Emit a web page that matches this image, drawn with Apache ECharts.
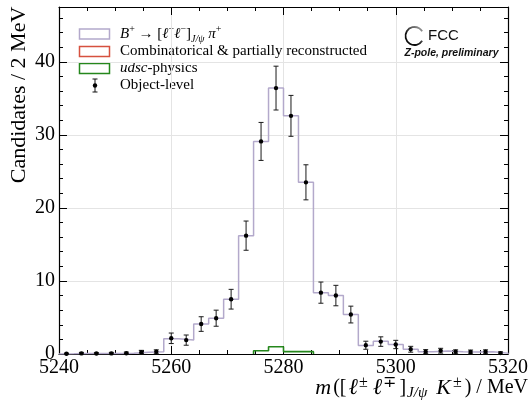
<!DOCTYPE html>
<html>
<head>
<meta charset="utf-8">
<script src="https://cdn.jsdelivr.net/npm/echarts@6/dist/echarts.min.js"></script>
<style>
  html, body { margin: 0; padding: 0; background: #fff; }
  #chart { width: 529px; height: 401px; }
</style>
</head>
<body>
<div id="chart"></div>
<script>
// Binning of the invariant-mass histogram (MeV)
const massLow = 5240;
const massHigh = 5320;
const nBins = 30;

// Stacked template outline, B+ -> [l+ l-]_{J/psi} pi+ (candidates per bin)
const signalStack = [0.03, 0.08, 0.06, 0.08, 0.1, 0.25, 0.3, 2.1, 1.9, 4.1,
                     4.9, 7.5, 16.2, 29.1, 36.4, 32.6, 23.5, 8.4, 8.0, 5.4,
                     1.15, 1.75, 1.3, 0.65, 0.32, 0.42, 0.3, 0.28, 0.3, 0.12];
// Combinatorial & partially reconstructed background
const combinatorial = [0, 0, 0, 0, 0, 0, 0, 0, 0, 0,
                       0, 0, 0, 0, 0, 0, 0, 0, 0, 0,
                       0, 0, 0, 0, 0, 0, 0, 0, 0, 0];
// udsc-physics background
const udsc = [0, 0, 0, 0, 0, 0, 0, 0, 0, 0,
              0, 0, 0, 0.45, 1.0, 0.32, 0.32, 0, 0, 0,
              0, 0, 0, 0, 0, 0, 0, 0, 0, 0];
// Object-level points and their uncertainties
const objectLevel = [0.03, 0.08, 0.06, 0.08, 0.1, 0.25, 0.3, 2.15, 1.9, 4.1,
                     4.9, 7.5, 16.2, 29.1, 36.4, 32.6, 23.5, 8.4, 8.0, 5.4,
                     1.2, 1.7, 1.3, 0.65, 0.32, 0.45, 0.3, 0.28, 0.3, 0.12];
const objectErr = [0.08, 0.14, 0.12, 0.14, 0.16, 0.25, 0.27, 0.72, 0.7, 1.0,
                   1.1, 1.35, 2.0, 2.6, 3.0, 2.8, 2.4, 1.45, 1.4, 1.15,
                   0.55, 0.65, 0.57, 0.4, 0.28, 0.33, 0.27, 0.26, 0.27, 0.17];

// Axis ticks
const xTickStep = 20;
const yTickStep = 10;
const yMinorStep = 2;
const yTop = 47.5;

const binWidth = (massHigh - massLow) / nBins;
const binCenter = i => massLow + (i + 0.5) * binWidth;

// Outline of a step histogram, from first to last filled bin, closed to zero
function stepOutline(vals) {
  let first = -1, last = -1;
  vals.forEach((v, i) => { if (v > 0) { if (first < 0) first = i; last = i; } });
  if (first < 0) return [];
  const pts = [[massLow + first * binWidth, 0]];
  for (let i = first; i <= last; i++) {
    pts.push([massLow + i * binWidth, vals[i]]);
    pts.push([massLow + (i + 1) * binWidth, vals[i]]);
  }
  pts.push([massLow + (last + 1) * binWidth, 0]);
  return pts;
}

const SERIF = "'Liberation Serif', 'Times New Roman', serif";
const SANS = "'Liberation Sans', Arial, sans-serif";
const colSignal = '#b3a9cb';
const colComb = '#d6513f';
const colUdsc = '#25871c';

const chart = echarts.init(document.getElementById('chart'), null, { renderer: 'canvas' });

const tickStyle = { color: '#000', width: 1 };
const frameLine = { show: true, onZero: false, lineStyle: { color: '#000', width: 1.2 } };

function xAx(pos, labels) {
  return {
    type: 'value', position: pos, min: massLow, max: massHigh, interval: xTickStep,
    axisLine: frameLine,
    axisTick: { show: true, inside: true, length: 8, lineStyle: tickStyle },
    minorTick: { show: true, splitNumber: 4, length: 4, lineStyle: tickStyle },
    axisLabel: { show: labels, formatter: v => String(v), fontFamily: SERIF, fontSize: 20, color: '#000', margin: 4 },
    splitLine: { show: labels, lineStyle: { color: '#e4e4e4', width: 1 } }
  };
}
function yAx(pos, labels) {
  return {
    type: 'value', position: pos, min: 0, max: yTop, interval: yTickStep,
    axisLine: frameLine,
    axisTick: { show: true, inside: true, length: 8, lineStyle: tickStyle },
    axisLabel: { show: labels, showMaxLabel: false, fontFamily: SERIF, fontSize: 20, color: '#000', margin: 4 },
    splitLine: { show: labels, lineStyle: { color: '#e4e4e4', width: 1 } }
  };
}
function yMinor(pos) {
  return {
    type: 'value', position: pos, min: 0, max: yTop, interval: yMinorStep,
    axisLine: { show: false },
    axisTick: { show: true, inside: true, length: 4, lineStyle: tickStyle },
    axisLabel: { show: false },
    splitLine: { show: false }
  };
}

// Legend (drawn as graphics, top-left inside the frame)
const legendX = 79.5, legendTextX = 120;
const rows = [34, 51.5, 68.5, 85.5];
const legendGraphics = [
  { type: 'rect', shape: { x: legendX, y: rows[0] - 5, width: 30, height: 10 },
    style: { fill: 'none', stroke: colSignal, lineWidth: 1.5 } },
  { type: 'rect', shape: { x: legendX, y: rows[1] - 5, width: 30, height: 10 },
    style: { fill: 'none', stroke: colComb, lineWidth: 1.5 } },
  { type: 'rect', shape: { x: legendX, y: rows[2] - 5, width: 30, height: 10 },
    style: { fill: 'none', stroke: colUdsc, lineWidth: 1.5 } },
  { type: 'line', shape: { x1: 95, y1: rows[3] - 6.5, x2: 95, y2: rows[3] + 6.5 }, style: { stroke: '#111', lineWidth: 1 } },
  { type: 'line', shape: { x1: 92.5, y1: rows[3] - 6.5, x2: 97.5, y2: rows[3] - 6.5 }, style: { stroke: '#111', lineWidth: 1 } },
  { type: 'line', shape: { x1: 92.5, y1: rows[3] + 6.5, x2: 97.5, y2: rows[3] + 6.5 }, style: { stroke: '#111', lineWidth: 1 } },
  { type: 'circle', shape: { cx: 95, cy: rows[3], r: 2.2 }, style: { fill: '#000' } },
  { type: 'text', x: legendTextX, y: rows[0],
    style: {
      text: '{i|B}{sup|+}{r| → [}{i|ℓ}{sup|+}{i|ℓ}{sup|−}{r|]}{sub|J/ψ}{r| }{i|π}{sup|+}',
      verticalAlign: 'middle', fill: '#000',
      rich: {
        r: { fontFamily: SERIF, fontSize: 15, lineHeight: 20, fill: '#000' },
        i: { fontFamily: SERIF, fontSize: 15, fontStyle: 'italic', lineHeight: 20, fill: '#000' },
        sup: { fontFamily: SERIF, fontSize: 10, lineHeight: 12, verticalAlign: 'top', fill: '#000' },
        sub: { fontFamily: SERIF, fontSize: 10, fontStyle: 'italic', lineHeight: 10, verticalAlign: 'bottom', fill: '#000' }
      }
    } },
  { type: 'text', x: legendTextX, y: rows[1],
    style: { text: 'Combinatorical & partially reconstructed', font: '15px ' + SERIF, fill: '#000', verticalAlign: 'middle' } },
  { type: 'text', x: legendTextX, y: rows[2],
    style: {
      text: '{i|udsc}{r|-physics}', verticalAlign: 'middle',
      rich: {
        r: { fontFamily: SERIF, fontSize: 15, fill: '#000' },
        i: { fontFamily: SERIF, fontSize: 15, fontStyle: 'italic', fill: '#000' }
      }
    } },
  { type: 'text', x: legendTextX, y: rows[3],
    style: { text: 'Object-level', font: '15px ' + SERIF, fill: '#000', verticalAlign: 'middle' } }
];

// FCC mark in the top-right corner
const fccGraphics = [
  { type: 'arc', shape: { cx: 414.5, cy: 36, r: 9, startAngle: 0.55, endAngle: 2 * Math.PI - 0.55, clockwise: true },
    style: {
      fill: 'none', lineWidth: 1.8,
      stroke: { type: 'linear', x: 1, y: 0, x2: 0, y2: 1, colorStops: [
        { offset: 0, color: '#c8c8c8' }, { offset: 0.6, color: '#111' }, { offset: 1, color: '#000' }] }
    } },
  { type: 'text', x: 428, y: 35.5,
    style: { text: 'FCC', font: '15px ' + SANS, fill: '#111', verticalAlign: 'middle' } },
  { type: 'text', x: 451.5, y: 53,
    style: { text: 'Z-pole, preliminary', font: 'italic bold 10.5px ' + SANS, fill: '#111', align: 'center', verticalAlign: 'middle' } }
];

// Axis titles
const titleGraphics = [
  { type: 'text', x: 19, y: 95, rotation: Math.PI / 2,
    style: { text: 'Candidates / 2 MeV', font: '22px ' + SERIF, fill: '#000', align: 'center', verticalAlign: 'middle' } },
  { type: 'text', x: 528, y: 388,
    style: {
      text: '{i|m}{r|([}{l|ℓ}{sup|±}{l|ℓ}{sup|∓}{r|]}{sub|J/ψ}{r| }{i|K}{sup|±}{r|) / MeV}',
      align: 'right', verticalAlign: 'middle',
      rich: {
        r: { fontFamily: SERIF, fontSize: 20, lineHeight: 26, fill: '#000' },
        i: { fontFamily: SERIF, fontSize: 22, fontStyle: 'italic', lineHeight: 26, fill: '#000', padding: [0, 2, 0, 0] },
        l: { fontFamily: SERIF, fontSize: 23, fontStyle: 'italic', lineHeight: 26, fill: '#000', padding: [0, 1, 0, 2] },
        sup: { fontFamily: SERIF, fontSize: 16, lineHeight: 15, verticalAlign: 'top', fill: '#000', padding: [0, 3, 0, 0] },
        sub: { fontFamily: SERIF, fontSize: 15, fontStyle: 'italic', lineHeight: 13, verticalAlign: 'bottom', fill: '#000', padding: [0, 4, 0, 1] }
      }
    } }
];

const option = {
  animation: false,
  backgroundColor: '#fff',
  grid: { left: 59, right: 21, top: 7, bottom: 47, containLabel: false, outerBoundsMode: 'none' },
  xAxis: [xAx('bottom', true), xAx('top', false)],
  yAxis: [yAx('left', true), yAx('right', false), yMinor('left'), yMinor('right')],
  series: [
    { name: 'udsc', type: 'line', data: stepOutline(udsc), showSymbol: false, z: 3,
      lineStyle: { color: colUdsc, width: 1.6 } },
    { name: 'comb', type: 'line', data: stepOutline(combinatorial), showSymbol: false, z: 3,
      lineStyle: { color: colComb, width: 1.6 } },
    { name: 'signal', type: 'line', data: stepOutline(signalStack), showSymbol: false, z: 2,
      lineStyle: { color: colSignal, width: 1.5 } },
    {
      name: 'Object-level', type: 'custom', z: 4,
      data: objectLevel.map((v, i) => [binCenter(i), v, objectErr[i]]),
      renderItem(params, api) {
        const x = api.value(0), y = api.value(1), e = api.value(2);
        const c = api.coord([x, y]);
        const t = api.coord([x, y + e]);
        const b = api.coord([x, Math.max(0, y - e)]);
        const ls = { stroke: '#1a1a1a', lineWidth: 1 };
        return {
          type: 'group',
          children: [
            { type: 'line', shape: { x1: c[0], y1: t[1], x2: c[0], y2: b[1] }, style: ls },
            { type: 'line', shape: { x1: c[0] - 2.5, y1: t[1], x2: c[0] + 2.5, y2: t[1] }, style: ls },
            { type: 'line', shape: { x1: c[0] - 2.5, y1: b[1], x2: c[0] + 2.5, y2: b[1] }, style: ls },
            { type: 'circle', shape: { cx: c[0], cy: c[1], r: 2.2 }, style: { fill: '#000' } }
          ]
        };
      }
    }
  ],
  graphic: [...legendGraphics, ...fccGraphics, ...titleGraphics]
};

chart.setOption(option);
</script>
</body>
</html>
